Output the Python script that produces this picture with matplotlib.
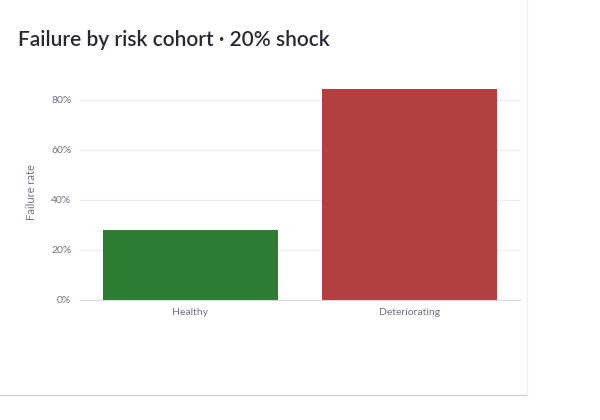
import matplotlib
matplotlib.use("Agg")
import matplotlib.pyplot as plt
from matplotlib.ticker import PercentFormatter

categories = ["Healthy", "Deteriorating"]
values = [0.28, 0.844]
colors = ["#2e7d32", "#b33f40"]
yticks = [0, 0.2, 0.4, 0.6, 0.8]

plt.rcParams['font.family'] = ['Lato', 'DejaVu Sans']
fig = plt.figure(figsize=(6, 4.2), dpi=100)
ax = fig.add_axes([0.133, 0.286, 0.734, 0.512])
x = list(range(len(categories)))
ax.bar(x, values, width=0.8, color=colors, zorder=2)
ax.set_xlim(-0.505, 1.505)
ax.set_ylim(0, 0.86)
ax.set_xticks(x, categories)
ax.set_yticks(yticks)
ax.yaxis.set_major_formatter(PercentFormatter(1.0, decimals=0))
ax.grid(axis='y', color='#ececf0', linewidth=0.8, zorder=0)
for s in ['top', 'right', 'left']:
    ax.spines[s].set_visible(False)
ax.spines['bottom'].set_color('#d8d8e0')
ax.tick_params(length=0, labelsize=7.5, colors='#707088', pad=6)
ax.set_ylabel("Failure rate", fontsize=8, color='#707088', labelpad=10)
fig.text(0.03, 0.89, "Failure by risk cohort · 20% shock", fontsize=15, color='#2a2a35', fontweight='semibold')
fig.add_artist(plt.Line2D([0, 0.878], [0.06, 0.06], color='#cccccc', linewidth=0.8))
fig.add_artist(plt.Line2D([0.878, 0.878], [0.06, 1], color='#eeeeee', linewidth=0.8))
fig.savefig("out.png", dpi=100)
